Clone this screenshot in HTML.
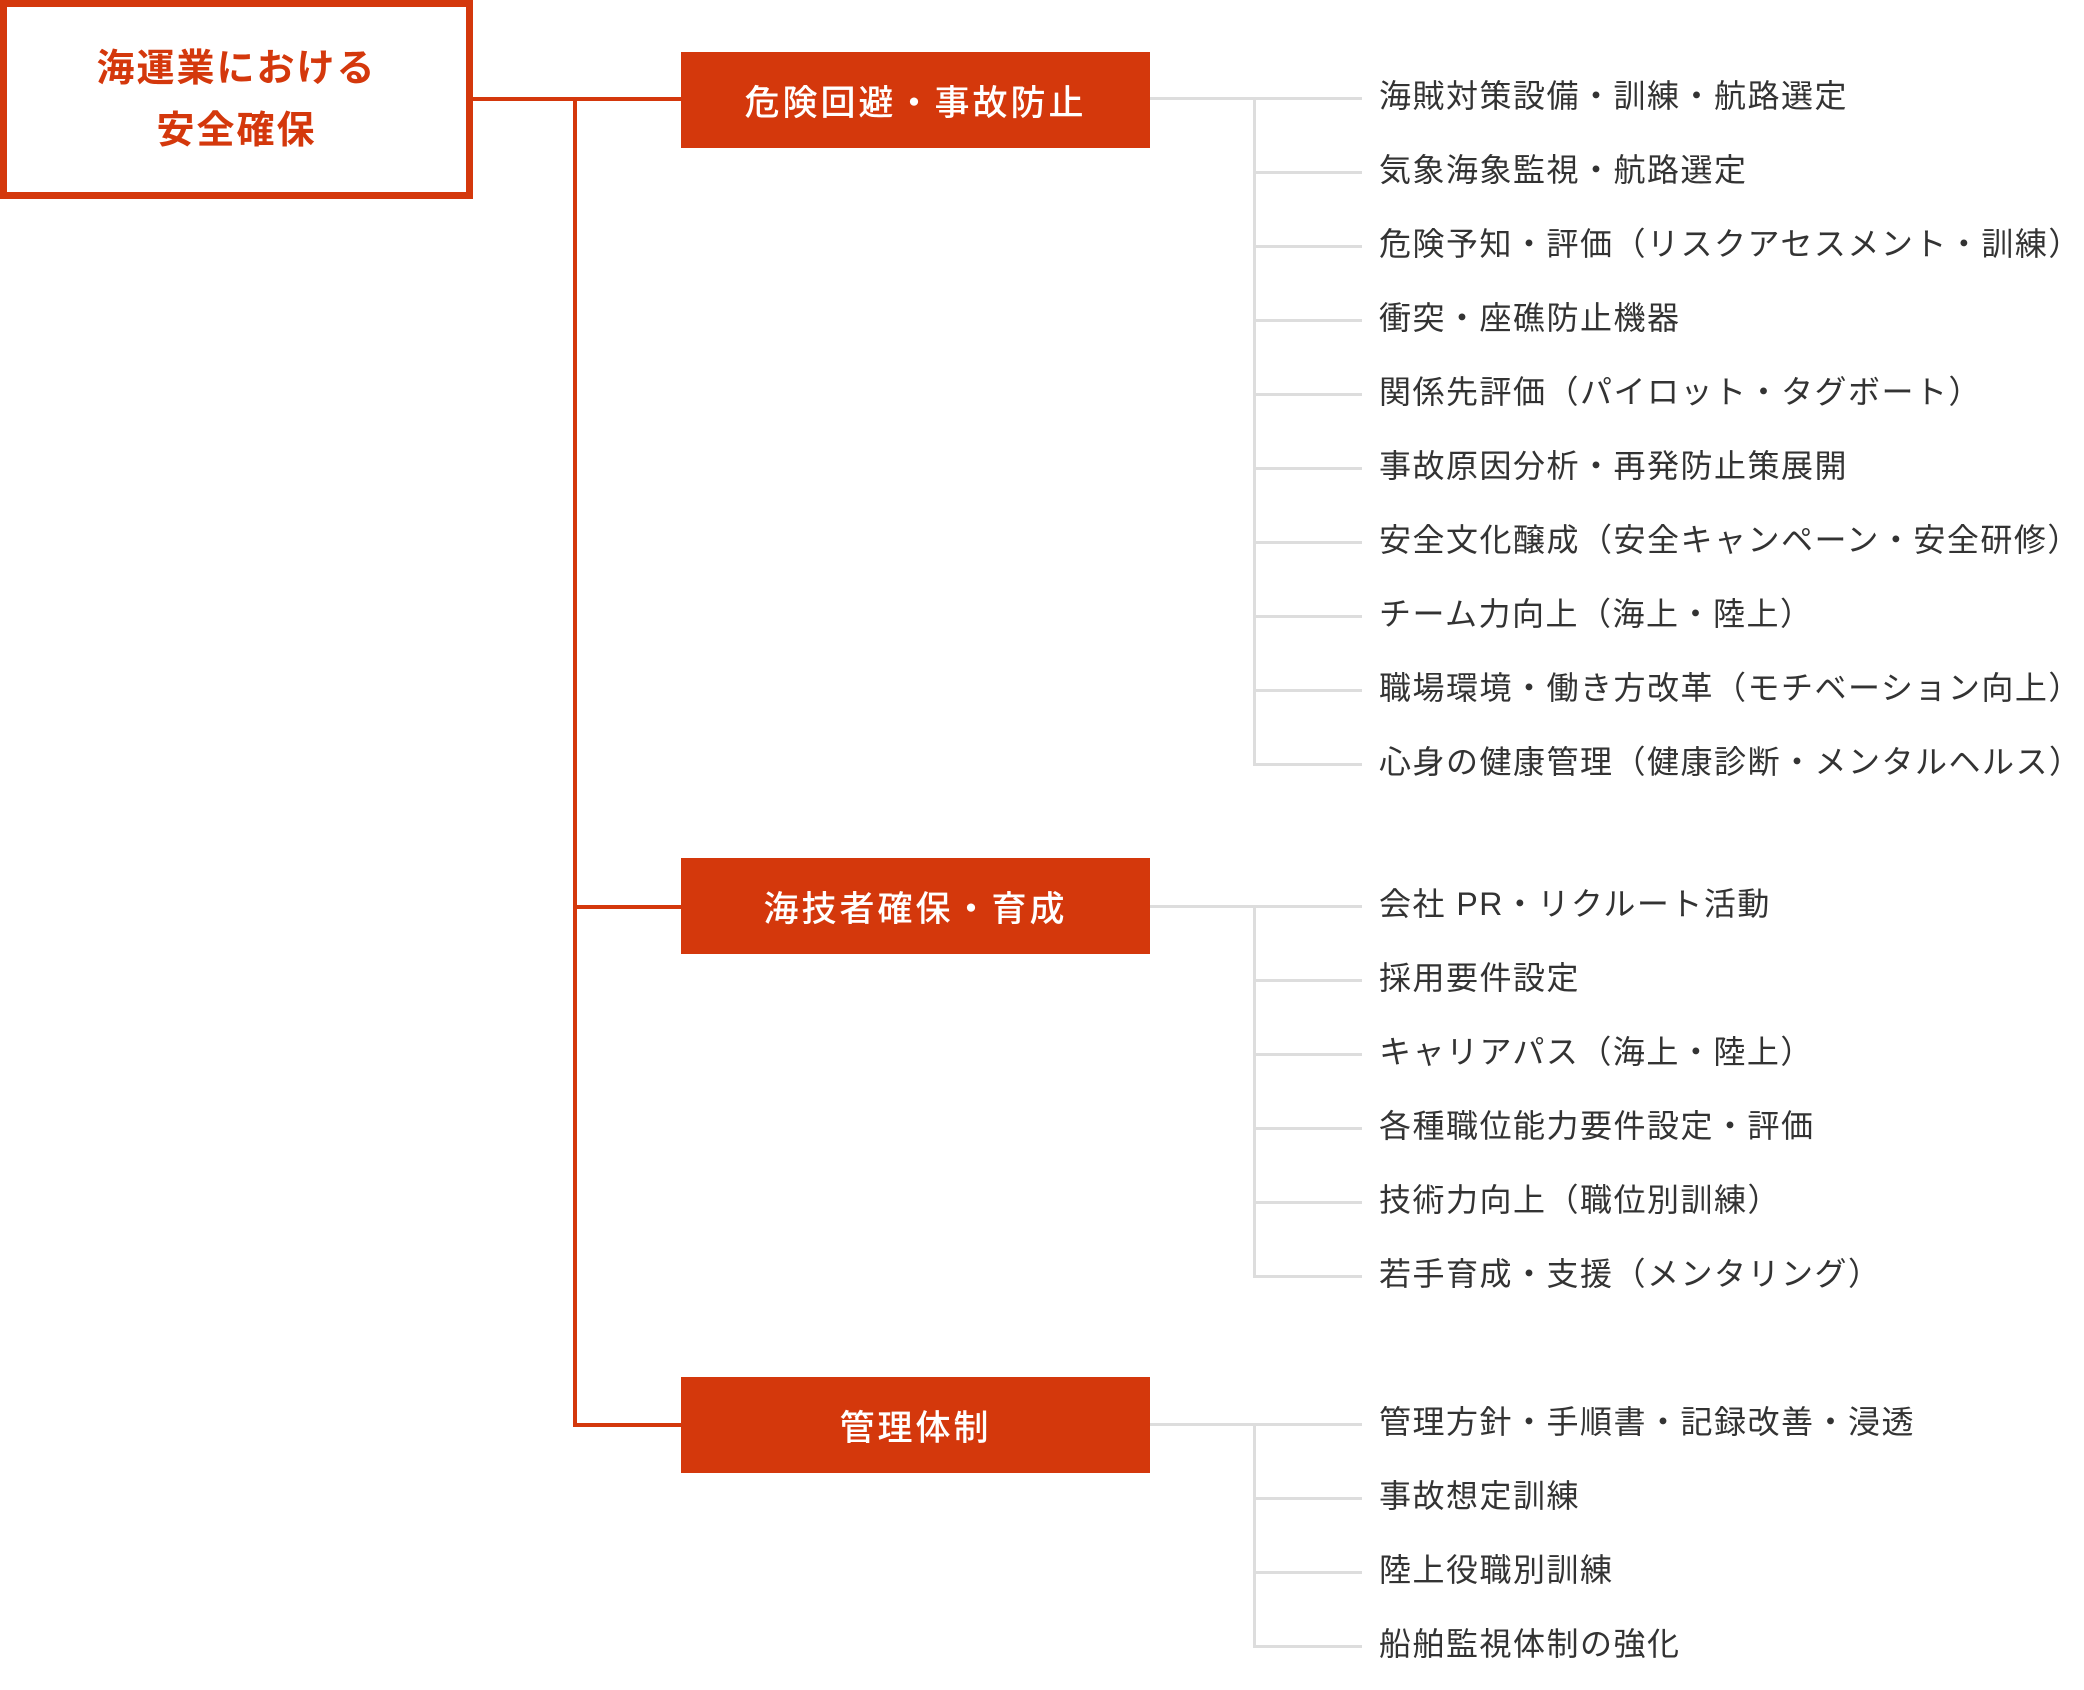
<!DOCTYPE html>
<html><head><meta charset="utf-8"><style>
body{margin:0;width:2084px;height:1690px;background:#fff;position:relative;overflow:hidden;font-family:"Liberation Sans","Noto Sans CJK JP",sans-serif}
.a{position:absolute}
.root{left:0;top:0;width:459px;height:185px;border:7px solid #d4380c;color:#d4380c;font-weight:bold;font-size:38px;text-align:center;line-height:62px;letter-spacing:2px;display:flex;align-items:center;justify-content:center}
.cat{left:681px;width:469px;height:96px;background:#d4380c;color:#fff;font-size:35px;font-weight:500;letter-spacing:3px;display:flex;align-items:center;justify-content:center}
.r{background:#d4380c}
.g{background:#ddd}
.t{left:1379px;font-size:32px;color:#333;letter-spacing:1.5px;line-height:40px;white-space:nowrap}
</style></head><body>
<div class="a root"><div>海運業における<br>安全確保</div></div>
<div class="a r" style="left:473px;top:97px;width:208px;height:4px"></div>
<div class="a r" style="left:573px;top:97px;width:4px;height:1330px"></div>
<div class="a r" style="left:573px;top:905px;width:108px;height:4px"></div>
<div class="a r" style="left:573px;top:1423px;width:108px;height:4px"></div>
<div class="a cat" style="top:52px">危険回避・事故防止</div>
<div class="a cat" style="top:858px">海技者確保・育成</div>
<div class="a cat" style="top:1377px">管理体制</div>
<div id="g"></div>
<script>
var groups=[[99,["海賊対策設備・訓練・航路選定","気象海象監視・航路選定","危険予知・評価（リスクアセスメント・訓練）","衝突・座礁防止機器","関係先評価（パイロット・タグボート）","事故原因分析・再発防止策展開","安全文化醸成（安全キャンペーン・安全研修）","チーム力向上（海上・陸上）","職場環境・働き方改革（モチベーション向上）","心身の健康管理（健康診断・メンタルヘルス）"]],
[907,["会社 PR・リクルート活動","採用要件設定","キャリアパス（海上・陸上）","各種職位能力要件設定・評価","技術力向上（職位別訓練）","若手育成・支援（メンタリング）"]],
[1425,["管理方針・手順書・記録改善・浸透","事故想定訓練","陸上役職別訓練","船舶監視体制の強化"]]];
var h="",s=74.0;
groups.forEach(function(G){var y0=G[0],n=G[1].length;
h+='<div class="a g" style="left:1150px;top:'+(y0-2)+'px;width:212px;height:3px"></div>';
h+='<div class="a g" style="left:1253px;top:'+(y0-2)+'px;width:3px;height:'+(s*(n-1)+3)+'px"></div>';
G[1].forEach(function(t,i){var y=y0+s*i;
h+='<div class="a g" style="left:1253px;top:'+(y-2)+'px;width:109px;height:3px"></div>';
h+='<div class="a t" style="top:'+(y-23)+'px">'+t+'</div>';});});
document.getElementById("g").innerHTML=h;
</script>
</body></html>
